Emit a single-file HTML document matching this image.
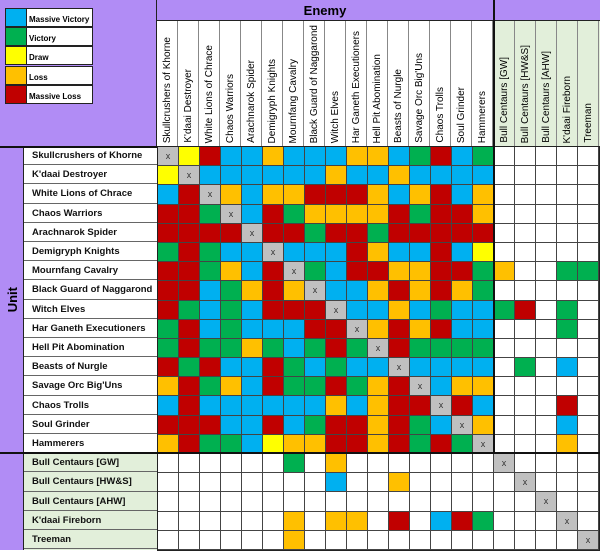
<!DOCTYPE html>
<html><head><meta charset="utf-8"><style>
*{margin:0;padding:0;box-sizing:border-box}
body{width:600px;height:550px;background:#fff;position:relative;overflow:hidden;font-family:"Liberation Sans",Arial,sans-serif}
.abs{position:absolute}
.pur{background:#b18cf5}
.grid{position:absolute;left:157px;top:146px;display:grid;grid-template-columns:repeat(21,20px);grid-auto-rows:18.2px;gap:1px;background:#444;border:1px solid #222;width:443px;height:405px;padding:0}
.grid i{display:block;font-style:normal;font-size:9px;color:#333;text-align:center;line-height:18px}
.b{background:#00b0f0}.g{background:#00b050}.y{background:#ffff00}.o{background:#ffc000}.r{background:#c00000}.x{background:#c0c0c0}.w{background:#fff}
.hdr{position:absolute;top:21px;height:125px;width:21px;border-right:1px solid #888;display:flex;justify-content:center;align-items:flex-end;padding-bottom:3px}
.hdr span{writing-mode:vertical-rl;transform:rotate(180deg);font-size:10px;white-space:nowrap;color:#000}
.lab{position:absolute;left:24px;width:133px;height:19.2px;border-bottom:1px solid #666;font-size:9.5px;font-weight:bold;padding-left:8px;line-height:19px;color:#111}
.leg{position:absolute;left:5px;width:88px;height:19.4px;border:1px solid #222;display:flex}
.leg b{width:21px;height:100%;border-right:1px solid #222}
.leg span{background:#fff;flex:1;font-size:8px;font-weight:bold;padding-left:2px;line-height:21px;white-space:nowrap;overflow:hidden}
</style></head><body>
<div class="abs pur" style="left:0;top:0;width:157px;height:146px;border-right:1px solid #222"></div>
<div class="abs pur" style="left:157px;top:0;width:443px;height:21px;border-bottom:1px solid #222"></div>
<div class="abs" style="left:157px;top:0;width:336px;height:21px;text-align:center;font-weight:bold;font-size:13px;line-height:22px">Enemy</div>
<div class="abs" style="left:493px;top:0;width:2px;height:454px;background:#111;z-index:3"></div>
<div class="abs" style="left:493px;top:21px;width:107px;height:125px;background:#e2efda"></div>
<div class="leg" style="top:8px"><b class="b"></b><span>Massive Victory</span></div>
<div class="leg" style="top:27px"><b class="g"></b><span>Victory</span></div>
<div class="leg" style="top:46px"><b class="y"></b><span>Draw</span></div>
<div class="leg" style="top:66px"><b class="o"></b><span>Loss</span></div>
<div class="leg" style="top:85px"><b class="r"></b><span>Massive Loss</span></div>

<div class="hdr" style="left:157px"><span>Skullcrushers of Khorne</span></div>
<div class="hdr" style="left:178px"><span>K'daai Destroyer</span></div>
<div class="hdr" style="left:199px"><span>White Lions of Chrace</span></div>
<div class="hdr" style="left:220px"><span>Chaos Warriors</span></div>
<div class="hdr" style="left:241px"><span>Arachnarok Spider</span></div>
<div class="hdr" style="left:262px"><span>Demigryph Knights</span></div>
<div class="hdr" style="left:283px"><span>Mournfang Cavalry</span></div>
<div class="hdr" style="left:304px"><span>Black Guard of Naggarond</span></div>
<div class="hdr" style="left:325px"><span>Witch Elves</span></div>
<div class="hdr" style="left:346px"><span>Har Ganeth Executioners</span></div>
<div class="hdr" style="left:367px"><span>Hell Pit Abomination</span></div>
<div class="hdr" style="left:388px"><span>Beasts of Nurgle</span></div>
<div class="hdr" style="left:409px"><span>Savage Orc Big'Uns</span></div>
<div class="hdr" style="left:430px"><span>Chaos Trolls</span></div>
<div class="hdr" style="left:451px"><span>Soul Grinder</span></div>
<div class="hdr" style="left:472px"><span>Hammerers</span></div>
<div class="hdr" style="left:494px"><span>Bull Centaurs [GW]</span></div>
<div class="hdr" style="left:515px"><span>Bull Centaurs [HW&amp;S]</span></div>
<div class="hdr" style="left:536px"><span>Bull Centaurs [AHW]</span></div>
<div class="hdr" style="left:557px"><span>K'daai Fireborn</span></div>
<div class="hdr" style="left:578px"><span>Treeman</span></div>

<div class="abs pur" style="left:0;top:146px;width:24px;height:404px;border-right:1px solid #222"></div>
<div class="abs" style="left:0;top:260px;width:24px;height:80px;display:flex;align-items:center;justify-content:center"><span style="writing-mode:vertical-rl;transform:rotate(180deg);font-weight:bold;font-size:13px">Unit</span></div>
<div class="abs" style="left:0;top:146px;width:157px;height:2px;background:#111"></div>
<div class="abs" style="left:24px;top:454px;width:133px;height:96px;background:#e2efda"></div>

<div class="lab" style="top:146px">Skullcrushers of Khorne</div>
<div class="lab" style="top:165.2px">K'daai Destroyer</div>
<div class="lab" style="top:184.4px">White Lions of Chrace</div>
<div class="lab" style="top:203.6px">Chaos Warriors</div>
<div class="lab" style="top:222.8px">Arachnarok Spider</div>
<div class="lab" style="top:242px">Demigryph Knights</div>
<div class="lab" style="top:261.2px">Mournfang Cavalry</div>
<div class="lab" style="top:280.4px">Black Guard of Naggarond</div>
<div class="lab" style="top:299.6px">Witch Elves</div>
<div class="lab" style="top:318.8px">Har Ganeth Executioners</div>
<div class="lab" style="top:338px">Hell Pit Abomination</div>
<div class="lab" style="top:357.2px">Beasts of Nurgle</div>
<div class="lab" style="top:376.4px">Savage Orc Big'Uns</div>
<div class="lab" style="top:395.6px">Chaos Trolls</div>
<div class="lab" style="top:414.8px">Soul Grinder</div>
<div class="lab" style="top:434px">Hammerers</div>
<div class="lab" style="top:453.2px">Bull Centaurs [GW]</div>
<div class="lab" style="top:472.4px">Bull Centaurs [HW&amp;S]</div>
<div class="lab" style="top:491.6px">Bull Centaurs [AHW]</div>
<div class="lab" style="top:510.8px">K'daai Fireborn</div>
<div class="lab" style="top:530px">Treeman</div>
<div class="abs" style="left:0;top:452px;width:600px;height:2px;background:#111;z-index:3"></div>

<div class="grid">
<i class=x>x</i><i class=y></i><i class=r></i><i class=b></i><i class=b></i><i class=o></i><i class=b></i><i class=b></i><i class=b></i><i class=o></i><i class=o></i><i class=b></i><i class=g></i><i class=r></i><i class=b></i><i class=g></i><i class=w></i><i class=w></i><i class=w></i><i class=w></i><i class=w></i>
<i class=y></i><i class=x>x</i><i class=b></i><i class=b></i><i class=b></i><i class=b></i><i class=b></i><i class=b></i><i class=o></i><i class=b></i><i class=b></i><i class=o></i><i class=b></i><i class=b></i><i class=b></i><i class=b></i><i class=w></i><i class=w></i><i class=w></i><i class=w></i><i class=w></i>
<i class=b></i><i class=r></i><i class=x>x</i><i class=o></i><i class=b></i><i class=o></i><i class=o></i><i class=r></i><i class=r></i><i class=r></i><i class=o></i><i class=b></i><i class=o></i><i class=r></i><i class=b></i><i class=o></i><i class=w></i><i class=w></i><i class=w></i><i class=w></i><i class=w></i>
<i class=r></i><i class=r></i><i class=g></i><i class=x>x</i><i class=b></i><i class=r></i><i class=g></i><i class=o></i><i class=o></i><i class=o></i><i class=o></i><i class=r></i><i class=g></i><i class=r></i><i class=r></i><i class=o></i><i class=w></i><i class=w></i><i class=w></i><i class=w></i><i class=w></i>
<i class=r></i><i class=r></i><i class=r></i><i class=r></i><i class=x>x</i><i class=r></i><i class=r></i><i class=g></i><i class=r></i><i class=r></i><i class=g></i><i class=r></i><i class=r></i><i class=r></i><i class=r></i><i class=r></i><i class=w></i><i class=w></i><i class=w></i><i class=w></i><i class=w></i>
<i class=g></i><i class=r></i><i class=g></i><i class=b></i><i class=b></i><i class=x>x</i><i class=b></i><i class=b></i><i class=b></i><i class=r></i><i class=o></i><i class=b></i><i class=b></i><i class=r></i><i class=b></i><i class=y></i><i class=w></i><i class=w></i><i class=w></i><i class=w></i><i class=w></i>
<i class=r></i><i class=r></i><i class=g></i><i class=o></i><i class=b></i><i class=r></i><i class=x>x</i><i class=g></i><i class=b></i><i class=r></i><i class=r></i><i class=o></i><i class=o></i><i class=r></i><i class=r></i><i class=g></i><i class=o></i><i class=w></i><i class=w></i><i class=g></i><i class=g></i>
<i class=r></i><i class=r></i><i class=b></i><i class=g></i><i class=o></i><i class=r></i><i class=o></i><i class=x>x</i><i class=b></i><i class=b></i><i class=o></i><i class=r></i><i class=o></i><i class=r></i><i class=o></i><i class=g></i><i class=w></i><i class=w></i><i class=w></i><i class=w></i><i class=w></i>
<i class=r></i><i class=g></i><i class=b></i><i class=g></i><i class=b></i><i class=r></i><i class=r></i><i class=r></i><i class=x>x</i><i class=b></i><i class=b></i><i class=o></i><i class=b></i><i class=g></i><i class=b></i><i class=b></i><i class=g></i><i class=r></i><i class=w></i><i class=g></i><i class=w></i>
<i class=g></i><i class=r></i><i class=b></i><i class=g></i><i class=b></i><i class=b></i><i class=b></i><i class=r></i><i class=r></i><i class=x>x</i><i class=o></i><i class=r></i><i class=o></i><i class=r></i><i class=b></i><i class=b></i><i class=w></i><i class=w></i><i class=w></i><i class=g></i><i class=w></i>
<i class=g></i><i class=r></i><i class=g></i><i class=g></i><i class=o></i><i class=g></i><i class=b></i><i class=g></i><i class=r></i><i class=g></i><i class=x>x</i><i class=r></i><i class=g></i><i class=g></i><i class=g></i><i class=g></i><i class=w></i><i class=w></i><i class=w></i><i class=w></i><i class=w></i>
<i class=r></i><i class=g></i><i class=r></i><i class=b></i><i class=b></i><i class=r></i><i class=g></i><i class=b></i><i class=g></i><i class=b></i><i class=b></i><i class=x>x</i><i class=b></i><i class=b></i><i class=b></i><i class=b></i><i class=w></i><i class=g></i><i class=w></i><i class=b></i><i class=w></i>
<i class=o></i><i class=r></i><i class=g></i><i class=o></i><i class=b></i><i class=r></i><i class=g></i><i class=g></i><i class=r></i><i class=g></i><i class=o></i><i class=r></i><i class=x>x</i><i class=b></i><i class=o></i><i class=o></i><i class=w></i><i class=w></i><i class=w></i><i class=w></i><i class=w></i>
<i class=b></i><i class=r></i><i class=b></i><i class=b></i><i class=b></i><i class=b></i><i class=b></i><i class=b></i><i class=o></i><i class=b></i><i class=o></i><i class=r></i><i class=r></i><i class=x>x</i><i class=r></i><i class=b></i><i class=w></i><i class=w></i><i class=w></i><i class=r></i><i class=w></i>
<i class=r></i><i class=r></i><i class=r></i><i class=b></i><i class=b></i><i class=r></i><i class=b></i><i class=g></i><i class=r></i><i class=r></i><i class=o></i><i class=r></i><i class=g></i><i class=b></i><i class=x>x</i><i class=o></i><i class=w></i><i class=w></i><i class=w></i><i class=b></i><i class=w></i>
<i class=o></i><i class=r></i><i class=g></i><i class=g></i><i class=b></i><i class=y></i><i class=o></i><i class=o></i><i class=r></i><i class=r></i><i class=o></i><i class=r></i><i class=g></i><i class=r></i><i class=g></i><i class=x>x</i><i class=w></i><i class=w></i><i class=w></i><i class=o></i><i class=w></i>
<i class=w></i><i class=w></i><i class=w></i><i class=w></i><i class=w></i><i class=w></i><i class=g></i><i class=w></i><i class=o></i><i class=w></i><i class=w></i><i class=w></i><i class=w></i><i class=w></i><i class=w></i><i class=w></i><i class=x>x</i><i class=w></i><i class=w></i><i class=w></i><i class=w></i>
<i class=w></i><i class=w></i><i class=w></i><i class=w></i><i class=w></i><i class=w></i><i class=w></i><i class=w></i><i class=b></i><i class=w></i><i class=w></i><i class=o></i><i class=w></i><i class=w></i><i class=w></i><i class=w></i><i class=w></i><i class=x>x</i><i class=w></i><i class=w></i><i class=w></i>
<i class=w></i><i class=w></i><i class=w></i><i class=w></i><i class=w></i><i class=w></i><i class=w></i><i class=w></i><i class=w></i><i class=w></i><i class=w></i><i class=w></i><i class=w></i><i class=w></i><i class=w></i><i class=w></i><i class=w></i><i class=w></i><i class=x>x</i><i class=w></i><i class=w></i>
<i class=w></i><i class=w></i><i class=w></i><i class=w></i><i class=w></i><i class=w></i><i class=o></i><i class=w></i><i class=o></i><i class=o></i><i class=w></i><i class=r></i><i class=w></i><i class=b></i><i class=r></i><i class=g></i><i class=w></i><i class=w></i><i class=w></i><i class=x>x</i><i class=w></i>
<i class=w></i><i class=w></i><i class=w></i><i class=w></i><i class=w></i><i class=w></i><i class=o></i><i class=w></i><i class=w></i><i class=w></i><i class=w></i><i class=w></i><i class=w></i><i class=w></i><i class=w></i><i class=w></i><i class=w></i><i class=w></i><i class=w></i><i class=w></i><i class=x>x</i>
</div>
</body></html>
